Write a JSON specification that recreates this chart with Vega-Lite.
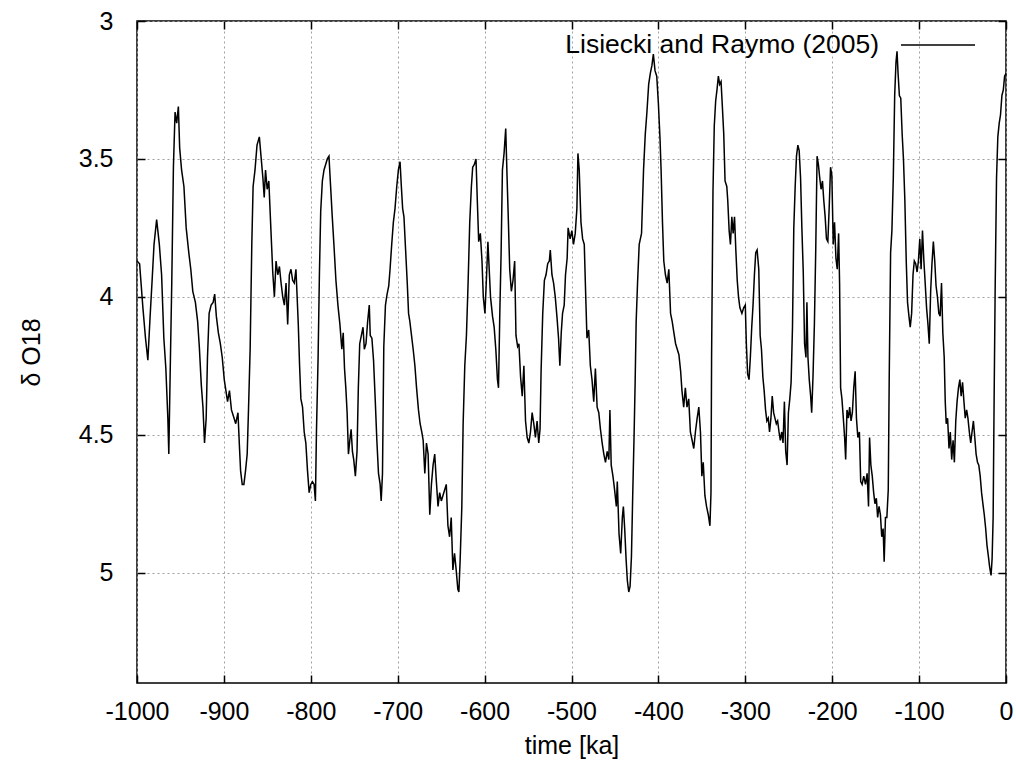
{
  "$schema": "https://vega.github.io/schema/vega-lite/v6.json",
  "width": 869,
  "height": 662,
  "autosize": {"type": "none"},
  "padding": {"left": 137, "top": 21, "right": 10, "bottom": 93},
  "background": "white",
  "config": {
    "view": {"stroke": "#000000", "strokeWidth": 1.5},
    "font": "Liberation Sans",
    "axis": {
      "labelFont": "Liberation Sans", "titleFont": "Liberation Sans",
      "labelFontSize": 25, "titleFontSize": 25,
      "labelColor": "#000000", "titleColor": "#000000", "titleFontWeight": "normal",
      "domain": false, "tickColor": "#000000", "tickWidth": 1.5,
      "gridColor": "#a0a0a0", "gridDash": [2, 3], "gridWidth": 1
    }
  },
  "data": {"values": [
    {"time": -1000, "d18O": 3.87}, {"time": -997, "d18O": 3.88}, {"time": -993.2, "d18O": 4.04}, {"time": -990.2, "d18O": 4.15}, {"time": -987.5, "d18O": 4.23}, {"time": -984.9, "d18O": 4.07}, {"time": -982.6, "d18O": 3.94}, {"time": -980.4, "d18O": 3.81}, {"time": -977.4, "d18O": 3.72}, {"time": -974.3, "d18O": 3.81}, {"time": -971.7, "d18O": 3.92}, {"time": -969.1, "d18O": 4.15}, {"time": -966.8, "d18O": 4.26}, {"time": -964.5, "d18O": 4.44}, {"time": -963.4, "d18O": 4.57}, {"time": -961.9, "d18O": 4.29}, {"time": -960, "d18O": 3.95}, {"time": -958.1, "d18O": 3.53}, {"time": -956.2, "d18O": 3.33}, {"time": -954.3, "d18O": 3.37}, {"time": -952.4, "d18O": 3.31}, {"time": -950.9, "d18O": 3.46}, {"time": -948.7, "d18O": 3.54}, {"time": -946, "d18O": 3.6}, {"time": -943.4, "d18O": 3.75}, {"time": -940.4, "d18O": 3.84}, {"time": -938.1, "d18O": 3.9}, {"time": -935.8, "d18O": 3.98}, {"time": -932.8, "d18O": 4.02}, {"time": -930.2, "d18O": 4.09}, {"time": -928.3, "d18O": 4.18}, {"time": -926, "d18O": 4.32}, {"time": -924.1, "d18O": 4.4}, {"time": -922.3, "d18O": 4.53}, {"time": -920.4, "d18O": 4.44}, {"time": -918.9, "d18O": 4.22}, {"time": -917, "d18O": 4.06}, {"time": -914.7, "d18O": 4.03}, {"time": -912.4, "d18O": 4.02}, {"time": -910.6, "d18O": 3.99}, {"time": -908.7, "d18O": 4.07}, {"time": -906.4, "d18O": 4.13}, {"time": -904.1, "d18O": 4.17}, {"time": -901.9, "d18O": 4.22}, {"time": -899.6, "d18O": 4.3}, {"time": -897.7, "d18O": 4.34}, {"time": -895.8, "d18O": 4.38}, {"time": -893.6, "d18O": 4.34}, {"time": -891.3, "d18O": 4.41}, {"time": -888.3, "d18O": 4.44}, {"time": -886.4, "d18O": 4.46}, {"time": -883.8, "d18O": 4.42}, {"time": -882.3, "d18O": 4.53}, {"time": -880.8, "d18O": 4.63}, {"time": -878.9, "d18O": 4.68}, {"time": -877, "d18O": 4.68}, {"time": -875.1, "d18O": 4.63}, {"time": -873.2, "d18O": 4.57}, {"time": -871.7, "d18O": 4.41}, {"time": -869.8, "d18O": 4.19}, {"time": -867.9, "d18O": 3.81}, {"time": -866.4, "d18O": 3.6}, {"time": -864.2, "d18O": 3.54}, {"time": -861.9, "d18O": 3.45}, {"time": -859.2, "d18O": 3.42}, {"time": -857.3, "d18O": 3.49}, {"time": -855.1, "d18O": 3.57}, {"time": -853.6, "d18O": 3.64}, {"time": -852.1, "d18O": 3.54}, {"time": -850.2, "d18O": 3.61}, {"time": -848.3, "d18O": 3.58}, {"time": -846, "d18O": 3.75}, {"time": -843.8, "d18O": 3.91}, {"time": -841.9, "d18O": 4.0}, {"time": -840, "d18O": 3.87},
    {"time": -838, "d18O": 3.92}, {"time": -836.1, "d18O": 3.89}, {"time": -834.2, "d18O": 3.95}, {"time": -832.3, "d18O": 4.0}, {"time": -830.4, "d18O": 4.03}, {"time": -828.5, "d18O": 3.95}, {"time": -826.6, "d18O": 4.1}, {"time": -824.7, "d18O": 3.92}, {"time": -822.8, "d18O": 3.9}, {"time": -820.9, "d18O": 3.94}, {"time": -819, "d18O": 3.95}, {"time": -817.1, "d18O": 3.9}, {"time": -816, "d18O": 3.98}, {"time": -814.4, "d18O": 4.1}, {"time": -812.9, "d18O": 4.25}, {"time": -811.4, "d18O": 4.37}, {"time": -809.5, "d18O": 4.4}, {"time": -807.6, "d18O": 4.49}, {"time": -805.7, "d18O": 4.53}, {"time": -803.8, "d18O": 4.63}, {"time": -801.9, "d18O": 4.71}, {"time": -800, "d18O": 4.68}, {"time": -798.1, "d18O": 4.67}, {"time": -796.2, "d18O": 4.68}, {"time": -794.7, "d18O": 4.74}, {"time": -793.5, "d18O": 4.49}, {"time": -791.6, "d18O": 4.22}, {"time": -790.1, "d18O": 3.92}, {"time": -788.6, "d18O": 3.69}, {"time": -786.7, "d18O": 3.58}, {"time": -784.8, "d18O": 3.54}, {"time": -782.9, "d18O": 3.52}, {"time": -781, "d18O": 3.5}, {"time": -779.1, "d18O": 3.49}, {"time": -777.2, "d18O": 3.6}, {"time": -775.3, "d18O": 3.71}, {"time": -773.4, "d18O": 3.81}, {"time": -771.1, "d18O": 3.94}, {"time": -768.8, "d18O": 4.03}, {"time": -766.5, "d18O": 4.1}, {"time": -764.3, "d18O": 4.19}, {"time": -762.7, "d18O": 4.13}, {"time": -761.2, "d18O": 4.26}, {"time": -759.7, "d18O": 4.33}, {"time": -758.2, "d18O": 4.42}, {"time": -756.7, "d18O": 4.57}, {"time": -755.1, "d18O": 4.52}, {"time": -753.6, "d18O": 4.48}, {"time": -752.1, "d18O": 4.56}, {"time": -750.6, "d18O": 4.59}, {"time": -748.7, "d18O": 4.65}, {"time": -746.8, "d18O": 4.56}, {"time": -745.3, "d18O": 4.33}, {"time": -743.7, "d18O": 4.17}, {"time": -741.8, "d18O": 4.14}, {"time": -739.9, "d18O": 4.11}, {"time": -738.4, "d18O": 4.19}, {"time": -736.5, "d18O": 4.17}, {"time": -734.6, "d18O": 4.09}, {"time": -732.7, "d18O": 4.03}, {"time": -731.6, "d18O": 4.14}, {"time": -729.7, "d18O": 4.15}, {"time": -727.8, "d18O": 4.23}, {"time": -725.9, "d18O": 4.37}, {"time": -724, "d18O": 4.52}, {"time": -722.1, "d18O": 4.64}, {"time": -720.2, "d18O": 4.68}, {"time": -719, "d18O": 4.74}, {"time": -717.5, "d18O": 4.64}, {"time": -716, "d18O": 4.18}, {"time": -714.1, "d18O": 4.03}, {"time": -712.2, "d18O": 3.99}, {"time": -710.3, "d18O": 3.96}, {"time": -708.8, "d18O": 3.9}, {"time": -706.9, "d18O": 3.81}, {"time": -705, "d18O": 3.73}, {"time": -703.1, "d18O": 3.68}, {"time": -701.1, "d18O": 3.6}, {"time": -699.2, "d18O": 3.54}, {"time": -697.3, "d18O": 3.51}, {"time": -695.8, "d18O": 3.6}, {"time": -694.3, "d18O": 3.68}, {"time": -692.8, "d18O": 3.71}, {"time": -690.9, "d18O": 3.83}, {"time": -689, "d18O": 3.95}, {"time": -687.5, "d18O": 4.06}, {"time": -686, "d18O": 4.09}, {"time": -684.1, "d18O": 4.14}, {"time": -682.2, "d18O": 4.19}, {"time": -680.2, "d18O": 4.25}, {"time": -678.3, "d18O": 4.33}, {"time": -676.1, "d18O": 4.41}, {"time": -674.2, "d18O": 4.46}, {"time": -672.3, "d18O": 4.49},
    {"time": -670.7, "d18O": 4.52}, {"time": -668.8, "d18O": 4.64}, {"time": -666.9, "d18O": 4.53}, {"time": -665, "d18O": 4.57}, {"time": -663.1, "d18O": 4.79}, {"time": -661.2, "d18O": 4.68}, {"time": -659.3, "d18O": 4.61}, {"time": -657.4, "d18O": 4.57}, {"time": -655.5, "d18O": 4.67}, {"time": -653.6, "d18O": 4.76}, {"time": -651.7, "d18O": 4.71}, {"time": -649.8, "d18O": 4.74}, {"time": -647.9, "d18O": 4.72}, {"time": -646, "d18O": 4.7}, {"time": -644.1, "d18O": 4.68}, {"time": -642.2, "d18O": 4.83}, {"time": -640.3, "d18O": 4.87}, {"time": -638.4, "d18O": 4.8}, {"time": -636.5, "d18O": 4.99}, {"time": -634.6, "d18O": 4.93}, {"time": -632.7, "d18O": 4.99}, {"time": -630.8, "d18O": 5.06}, {"time": -629.6, "d18O": 5.07}, {"time": -628.1, "d18O": 4.95}, {"time": -626.2, "d18O": 4.76}, {"time": -624.7, "d18O": 4.46}, {"time": -622.8, "d18O": 4.25}, {"time": -620.9, "d18O": 4.14}, {"time": -619, "d18O": 3.95}, {"time": -617.1, "d18O": 3.73}, {"time": -615.2, "d18O": 3.6}, {"time": -613.7, "d18O": 3.53}, {"time": -611.8, "d18O": 3.52}, {"time": -609.9, "d18O": 3.5}, {"time": -608.4, "d18O": 3.65}, {"time": -606.8, "d18O": 3.8}, {"time": -604.9, "d18O": 3.77}, {"time": -603, "d18O": 3.87}, {"time": -601.5, "d18O": 4.0}, {"time": -599.6, "d18O": 4.06}, {"time": -597.7, "d18O": 3.92}, {"time": -596.2, "d18O": 3.8}, {"time": -594.7, "d18O": 3.9}, {"time": -593.2, "d18O": 4.0}, {"time": -590.9, "d18O": 4.07}, {"time": -589, "d18O": 4.11}, {"time": -587.1, "d18O": 4.19}, {"time": -585.2, "d18O": 4.3}, {"time": -584, "d18O": 4.33}, {"time": -582.5, "d18O": 4.06}, {"time": -581, "d18O": 3.84}, {"time": -579.5, "d18O": 3.54}, {"time": -577.6, "d18O": 3.48}, {"time": -575.7, "d18O": 3.39}, {"time": -574.2, "d18O": 3.56}, {"time": -572.6, "d18O": 3.73}, {"time": -571.1, "d18O": 3.9}, {"time": -569.2, "d18O": 3.98}, {"time": -567.3, "d18O": 3.94}, {"time": -565.4, "d18O": 3.87}, {"time": -563.9, "d18O": 4.14}, {"time": -562, "d18O": 4.18}, {"time": -560.5, "d18O": 4.17}, {"time": -558.6, "d18O": 4.29}, {"time": -556.7, "d18O": 4.36}, {"time": -554.8, "d18O": 4.25}, {"time": -552.9, "d18O": 4.45}, {"time": -551, "d18O": 4.51}, {"time": -549.1, "d18O": 4.53}, {"time": -547.2, "d18O": 4.49}, {"time": -545.3, "d18O": 4.42}, {"time": -543.4, "d18O": 4.46}, {"time": -541.5, "d18O": 4.51}, {"time": -539.6, "d18O": 4.45}, {"time": -537.7, "d18O": 4.53}, {"time": -536.2, "d18O": 4.48}, {"time": -535, "d18O": 4.27}, {"time": -533.1, "d18O": 4.06}, {"time": -531.2, "d18O": 3.94}, {"time": -529.3, "d18O": 3.92}, {"time": -527.4, "d18O": 3.88}, {"time": -525.5, "d18O": 3.87}, {"time": -524.4, "d18O": 3.83}, {"time": -522.5, "d18O": 3.92}, {"time": -520.6, "d18O": 3.95}, {"time": -518.7, "d18O": 4.0}, {"time": -516.8, "d18O": 4.07}, {"time": -514.9, "d18O": 4.15}, {"time": -513.4, "d18O": 4.25}, {"time": -511.8, "d18O": 4.13}, {"time": -510.3, "d18O": 4.06}, {"time": -508.4, "d18O": 4.03}, {"time": -506.9, "d18O": 3.92}, {"time": -505, "d18O": 3.86}, {"time": -503.9, "d18O": 3.75},
    {"time": -501.6, "d18O": 3.79}, {"time": -499.6, "d18O": 3.76}, {"time": -497.7, "d18O": 3.81}, {"time": -495.7, "d18O": 3.77}, {"time": -493.8, "d18O": 3.68}, {"time": -492.6, "d18O": 3.48}, {"time": -491.1, "d18O": 3.54}, {"time": -489.1, "d18O": 3.73}, {"time": -487.2, "d18O": 3.79}, {"time": -485.3, "d18O": 3.81}, {"time": -483.7, "d18O": 3.99}, {"time": -482.2, "d18O": 4.15}, {"time": -480.2, "d18O": 4.12}, {"time": -478.3, "d18O": 4.25}, {"time": -476.4, "d18O": 4.3}, {"time": -474.4, "d18O": 4.38}, {"time": -472.5, "d18O": 4.26}, {"time": -470.5, "d18O": 4.4}, {"time": -468.6, "d18O": 4.42}, {"time": -466.7, "d18O": 4.48}, {"time": -464.7, "d18O": 4.53}, {"time": -462.8, "d18O": 4.57}, {"time": -460.9, "d18O": 4.6}, {"time": -458.9, "d18O": 4.56}, {"time": -457, "d18O": 4.59}, {"time": -455.8, "d18O": 4.41}, {"time": -454.3, "d18O": 4.61}, {"time": -452.3, "d18O": 4.65}, {"time": -450.4, "d18O": 4.7}, {"time": -448.4, "d18O": 4.76}, {"time": -447.3, "d18O": 4.67}, {"time": -445.3, "d18O": 4.86}, {"time": -443.4, "d18O": 4.93}, {"time": -441.5, "d18O": 4.8}, {"time": -440.3, "d18O": 4.76}, {"time": -438.8, "d18O": 4.84}, {"time": -437.2, "d18O": 4.95}, {"time": -435.7, "d18O": 5.03}, {"time": -434.1, "d18O": 5.07}, {"time": -432.6, "d18O": 5.05}, {"time": -431, "d18O": 4.94}, {"time": -429.5, "d18O": 4.71}, {"time": -427.9, "d18O": 4.49}, {"time": -426.7, "d18O": 4.3}, {"time": -425.6, "d18O": 4.09}, {"time": -424, "d18O": 3.95}, {"time": -422.1, "d18O": 3.81}, {"time": -419.4, "d18O": 3.77}, {"time": -417.1, "d18O": 3.54}, {"time": -415.1, "d18O": 3.41}, {"time": -413.2, "d18O": 3.33}, {"time": -411.2, "d18O": 3.23}, {"time": -409.3, "d18O": 3.19}, {"time": -407.4, "d18O": 3.16}, {"time": -405.8, "d18O": 3.12}, {"time": -403.9, "d18O": 3.18}, {"time": -401.9, "d18O": 3.2}, {"time": -400, "d18O": 3.3}, {"time": -398.1, "d18O": 3.43}, {"time": -396.9, "d18O": 3.54}, {"time": -395.3, "d18O": 3.73}, {"time": -393.8, "d18O": 3.87}, {"time": -391.9, "d18O": 3.92}, {"time": -389.9, "d18O": 3.95}, {"time": -388, "d18O": 3.9}, {"time": -386, "d18O": 4.06}, {"time": -384.1, "d18O": 4.09}, {"time": -382.2, "d18O": 4.13}, {"time": -380.2, "d18O": 4.17}, {"time": -378.3, "d18O": 4.19}, {"time": -376.4, "d18O": 4.21}, {"time": -374.4, "d18O": 4.27}, {"time": -372.9, "d18O": 4.34}, {"time": -370.9, "d18O": 4.4}, {"time": -369, "d18O": 4.33}, {"time": -367.1, "d18O": 4.4}, {"time": -365.1, "d18O": 4.37}, {"time": -363.2, "d18O": 4.49}, {"time": -361.2, "d18O": 4.52}, {"time": -359.3, "d18O": 4.55}, {"time": -357.4, "d18O": 4.49}, {"time": -355.4, "d18O": 4.44}, {"time": -353.5, "d18O": 4.4}, {"time": -351.6, "d18O": 4.49}, {"time": -350, "d18O": 4.65}, {"time": -348.4, "d18O": 4.6}, {"time": -346.5, "d18O": 4.72}, {"time": -344.6, "d18O": 4.76}, {"time": -342.6, "d18O": 4.79}, {"time": -340.7, "d18O": 4.83}, {"time": -339.5, "d18O": 4.71},
    {"time": -338.8, "d18O": 4.22}, {"time": -337.2, "d18O": 3.62}, {"time": -335.7, "d18O": 3.38}, {"time": -334.1, "d18O": 3.29}, {"time": -332.6, "d18O": 3.25}, {"time": -331, "d18O": 3.2}, {"time": -329.5, "d18O": 3.23}, {"time": -327.9, "d18O": 3.22}, {"time": -326.4, "d18O": 3.31}, {"time": -324.8, "d18O": 3.41}, {"time": -323.3, "d18O": 3.58}, {"time": -321.3, "d18O": 3.6}, {"time": -320.2, "d18O": 3.65}, {"time": -318.6, "d18O": 3.76}, {"time": -317.1, "d18O": 3.81}, {"time": -315.5, "d18O": 3.71}, {"time": -314, "d18O": 3.77}, {"time": -312.4, "d18O": 3.71}, {"time": -310.9, "d18O": 3.83}, {"time": -309.3, "d18O": 3.94}, {"time": -307.8, "d18O": 4.0}, {"time": -306.2, "d18O": 4.04}, {"time": -303.9, "d18O": 4.06}, {"time": -301.9, "d18O": 4.04}, {"time": -300, "d18O": 4.03}, {"time": -298.8, "d18O": 4.17}, {"time": -297.3, "d18O": 4.28}, {"time": -295.7, "d18O": 4.3}, {"time": -294.2, "d18O": 4.22}, {"time": -292.6, "d18O": 4.11}, {"time": -291.1, "d18O": 4.03}, {"time": -289.5, "d18O": 3.92}, {"time": -288, "d18O": 3.84}, {"time": -286.4, "d18O": 3.83}, {"time": -284.5, "d18O": 3.9}, {"time": -282.9, "d18O": 4.14}, {"time": -281.4, "d18O": 4.19}, {"time": -279.8, "d18O": 4.29}, {"time": -278.3, "d18O": 4.34}, {"time": -276.7, "d18O": 4.41}, {"time": -275.2, "d18O": 4.45}, {"time": -273.6, "d18O": 4.44}, {"time": -272.1, "d18O": 4.49}, {"time": -270.5, "d18O": 4.44}, {"time": -269, "d18O": 4.36}, {"time": -267.4, "d18O": 4.42}, {"time": -265.9, "d18O": 4.44}, {"time": -264.3, "d18O": 4.46}, {"time": -262.8, "d18O": 4.45}, {"time": -261.2, "d18O": 4.49}, {"time": -259.7, "d18O": 4.52}, {"time": -258.1, "d18O": 4.49}, {"time": -256.6, "d18O": 4.53}, {"time": -255, "d18O": 4.38}, {"time": -253.5, "d18O": 4.56}, {"time": -251.9, "d18O": 4.61}, {"time": -250.4, "d18O": 4.42}, {"time": -248.8, "d18O": 4.37}, {"time": -247.3, "d18O": 4.31}, {"time": -245.7, "d18O": 4.11}, {"time": -244.2, "d18O": 3.75}, {"time": -242.6, "d18O": 3.6}, {"time": -241.1, "d18O": 3.49}, {"time": -239.5, "d18O": 3.45}, {"time": -238, "d18O": 3.47}, {"time": -236.4, "d18O": 3.57}, {"time": -234.9, "d18O": 3.75}, {"time": -233.3, "d18O": 3.91}, {"time": -231.8, "d18O": 4.17}, {"time": -230.2, "d18O": 4.22}, {"time": -229.1, "d18O": 4.02}, {"time": -227.9, "d18O": 4.22}, {"time": -226.4, "d18O": 4.3}, {"time": -224.8, "d18O": 4.36}, {"time": -223.6, "d18O": 4.42}, {"time": -222.1, "d18O": 4.29}, {"time": -220.5, "d18O": 4.1}, {"time": -219, "d18O": 3.84}, {"time": -217.4, "d18O": 3.49}, {"time": -215.9, "d18O": 3.52}, {"time": -214.3, "d18O": 3.57}, {"time": -212.8, "d18O": 3.61}, {"time": -211.2, "d18O": 3.58}, {"time": -209.7, "d18O": 3.65}, {"time": -208.1, "d18O": 3.71}, {"time": -206.6, "d18O": 3.79}, {"time": -205, "d18O": 3.8}, {"time": -203.5, "d18O": 3.68}, {"time": -201.9, "d18O": 3.53}, {"time": -200.4, "d18O": 3.56}, {"time": -198.8, "d18O": 3.81}, {"time": -197.3, "d18O": 3.73}, {"time": -195.7, "d18O": 3.86}, {"time": -194.2, "d18O": 3.9}, {"time": -192.6, "d18O": 3.77}, {"time": -191.5, "d18O": 3.95}, {"time": -190.3, "d18O": 4.33}, {"time": -188.8, "d18O": 4.37}, {"time": -187.2, "d18O": 4.44}, {"time": -185.7, "d18O": 4.51}, {"time": -184.5, "d18O": 4.59}, {"time": -183, "d18O": 4.41}, {"time": -181.4, "d18O": 4.44}, {"time": -179.9, "d18O": 4.4}, {"time": -178.3, "d18O": 4.45}, {"time": -176.8, "d18O": 4.42}, {"time": -175.2, "d18O": 4.33}, {"time": -173.6, "d18O": 4.27}, {"time": -172.1, "d18O": 4.44}, {"time": -170.5, "d18O": 4.51},
    {"time": -168.7, "d18O": 4.49}, {"time": -167.2, "d18O": 4.67}, {"time": -165.6, "d18O": 4.68}, {"time": -163.7, "d18O": 4.65}, {"time": -161.7, "d18O": 4.68}, {"time": -159.8, "d18O": 4.64}, {"time": -158.2, "d18O": 4.76}, {"time": -157, "d18O": 4.51}, {"time": -155.5, "d18O": 4.61}, {"time": -153.9, "d18O": 4.65}, {"time": -152.3, "d18O": 4.71}, {"time": -150.8, "d18O": 4.75}, {"time": -149.2, "d18O": 4.73}, {"time": -147.7, "d18O": 4.8}, {"time": -146.1, "d18O": 4.76}, {"time": -144.5, "d18O": 4.79}, {"time": -143, "d18O": 4.87}, {"time": -141.4, "d18O": 4.84}, {"time": -140.2, "d18O": 4.96}, {"time": -138.7, "d18O": 4.8}, {"time": -137.1, "d18O": 4.8}, {"time": -135.5, "d18O": 4.7}, {"time": -134.4, "d18O": 4.3}, {"time": -132.8, "d18O": 3.84}, {"time": -131.3, "d18O": 3.76}, {"time": -129.7, "d18O": 3.57}, {"time": -128.1, "d18O": 3.27}, {"time": -126.6, "d18O": 3.15}, {"time": -125.4, "d18O": 3.11}, {"time": -124.2, "d18O": 3.19}, {"time": -122.7, "d18O": 3.27}, {"time": -121.1, "d18O": 3.28}, {"time": -119.5, "d18O": 3.41}, {"time": -118, "d18O": 3.5}, {"time": -116.4, "d18O": 3.65}, {"time": -114.8, "d18O": 3.87}, {"time": -113.3, "d18O": 4.02}, {"time": -111.7, "d18O": 4.07}, {"time": -110.2, "d18O": 4.11}, {"time": -108.6, "d18O": 4.06}, {"time": -107, "d18O": 3.92}, {"time": -105.5, "d18O": 3.87}, {"time": -103.9, "d18O": 3.88}, {"time": -102.3, "d18O": 3.91}, {"time": -100.8, "d18O": 3.87}, {"time": -99.2, "d18O": 3.79}, {"time": -97.7, "d18O": 3.9}, {"time": -96.1, "d18O": 3.76}, {"time": -94.5, "d18O": 3.87}, {"time": -93, "d18O": 3.95}, {"time": -91.4, "d18O": 4.04}, {"time": -89.8, "d18O": 4.1}, {"time": -88.3, "d18O": 4.17}, {"time": -86.7, "d18O": 3.98}, {"time": -85.2, "d18O": 3.88}, {"time": -83.6, "d18O": 3.8}, {"time": -82, "d18O": 3.87}, {"time": -80.5, "d18O": 3.96}, {"time": -78.9, "d18O": 4.0}, {"time": -77.3, "d18O": 4.06}, {"time": -75.8, "d18O": 4.07}, {"time": -74.2, "d18O": 3.95}, {"time": -72.7, "d18O": 4.13}, {"time": -71.1, "d18O": 4.22}, {"time": -69.9, "d18O": 4.38}, {"time": -68.8, "d18O": 4.46}, {"time": -67.2, "d18O": 4.44}, {"time": -65.6, "d18O": 4.55}, {"time": -64.1, "d18O": 4.49}, {"time": -62.5, "d18O": 4.59}, {"time": -60.9, "d18O": 4.52}, {"time": -59.4, "d18O": 4.6}, {"time": -57.8, "d18O": 4.45}, {"time": -56.3, "d18O": 4.38}, {"time": -54.7, "d18O": 4.33}, {"time": -53.1, "d18O": 4.3}, {"time": -51.6, "d18O": 4.36}, {"time": -50, "d18O": 4.31}, {"time": -48.4, "d18O": 4.38}, {"time": -46.9, "d18O": 4.44}, {"time": -45.3, "d18O": 4.41}, {"time": -43.8, "d18O": 4.44}, {"time": -42.2, "d18O": 4.49}, {"time": -40.6, "d18O": 4.53}, {"time": -39.1, "d18O": 4.49}, {"time": -37.5, "d18O": 4.45}, {"time": -35.9, "d18O": 4.51}, {"time": -34.4, "d18O": 4.57}, {"time": -32.8, "d18O": 4.6}, {"time": -31.3, "d18O": 4.61}, {"time": -29.7, "d18O": 4.65}, {"time": -28.1, "d18O": 4.71}, {"time": -26.6, "d18O": 4.75}, {"time": -25, "d18O": 4.79}, {"time": -23.4, "d18O": 4.84}, {"time": -21.9, "d18O": 4.9}, {"time": -20.3, "d18O": 4.94}, {"time": -18.8, "d18O": 4.98}, {"time": -17.2, "d18O": 5.01}, {"time": -16, "d18O": 4.95}, {"time": -14.8, "d18O": 4.8}, {"time": -13.7, "d18O": 4.38}, {"time": -12.5, "d18O": 3.98}, {"time": -10.9, "d18O": 3.57}, {"time": -9.4, "d18O": 3.42}, {"time": -7.8, "d18O": 3.37}, {"time": -6.3, "d18O": 3.34}, {"time": -4.7, "d18O": 3.27}, {"time": -3.1, "d18O": 3.25}, {"time": -1.6, "d18O": 3.2}, {"time": 0, "d18O": 3.19}
  ]},
  "layer": [
    {
      "mark": {"type": "line", "strokeWidth": 1.5},
      "encoding": {
        "x": {
          "field": "time", "type": "quantitative",
          "scale": {"domain": [-1000, 0], "nice": false, "zero": false},
          "axis": {
            "orient": "bottom",
            "values": [-1000, -900, -800, -700, -600, -500, -400, -300, -200, -100, 0],
            "labelExpr": "'' + datum.value",
            "tickSize": -8, "labelPadding": 24, "labelFlush": false,
            "grid": true, "title": "time [ka]", "titlePadding": 9
          }
        },
        "y": {
          "field": "d18O", "type": "quantitative",
          "scale": {"domain": [3, 5.4], "reverse": true, "nice": false, "zero": false},
          "axis": {
            "orient": "left",
            "values": [3, 3.5, 4, 4.5, 5],
            "labelExpr": "'' + datum.value",
            "tickSize": -8, "labelPadding": 32, "labelFlush": false,
            "grid": true, "title": "δ O18", "titlePadding": 34
          }
        },
        "color": {
          "datum": "Lisiecki and Raymo (2005)", "type": "nominal",
          "scale": {"range": ["#000000"]},
          "legend": {
            "orient": "none", "legendX": 763, "legendY": -14, "title": null, "padding": 0,
            "symbolType": "stroke", "symbolSize": 5476, "symbolStrokeWidth": 1.5, "symbolStrokeColor": "#000000",
            "labelFont": "Liberation Sans", "labelFontSize": 26.5, "labelColor": "#000000",
            "labelAlign": "right", "labelOffset": -97, "labelLimit": 0
          }
        }
      }
    },
    {
      "mark": {"type": "line", "strokeOpacity": 0},
      "encoding": {
        "x": {
          "field": "time", "type": "quantitative",
          "scale": {"domain": [-1000, 0], "nice": false, "zero": false},
          "axis": {
            "orient": "top",
            "values": [-1000, -900, -800, -700, -600, -500, -400, -300, -200, -100, 0],
            "labels": false, "tickSize": -8, "grid": false, "title": null
          }
        },
        "y": {
          "field": "d18O", "type": "quantitative",
          "scale": {"domain": [3, 5.4], "reverse": true, "nice": false, "zero": false},
          "axis": {
            "orient": "right",
            "values": [3, 3.5, 4, 4.5, 5],
            "labels": false, "tickSize": -8, "grid": false, "title": null
          }
        }
      }
    }
  ],
  "resolve": {"axis": {"x": "independent", "y": "independent"}}
}
